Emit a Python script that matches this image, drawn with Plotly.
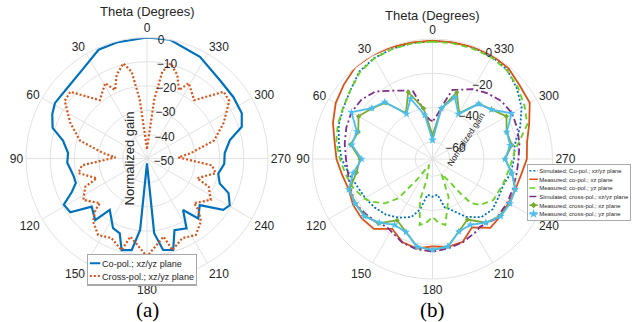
import plotly.graph_objects as go

# ---------------- Panel (a) data ----------------
theta_a_co = [0, 14, 24, 36, 48, 59, 65, 72, 78, 86, 93, 103, 109, 114, 119, 125, 131, 140, 144, 154, 160,
              164.5, 170.5, 174.5, 180, 185.5, 190, 196, 201, 209.5, 215, 220.5, 228.5, 236, 240.5, 247, 251,
              258, 266, 274, 282.5, 288.5, 295.5, 305.5, 317, 332.5, 349, 360]
gain_a_co = [0, -0.4, -0.8, -4.6, -6, -5.6, -6.8, -9, -14.5, -17.3, -17, -18.8, -18.9, -16, -10.7, -11.3, -19.7,
             -16.7, -23.8, -18, -17.1, -10.7, -11.6, -20.3, -48, -19, -11.6, -10.7, -18.3, -16.8, -24, -17.4,
             -20.9, -12, -10.7, -13.4, -18.2, -19.9, -18, -17.8, -14.9, -8.7, -6.6, -6.2, -5.8, -2.6, 0, 0]

theta_a_x = [0, 7, 10, 14, 20, 25, 29, 39, 49, 55, 65, 75, 83, 88, 96, 102, 111.5, 114.5, 123, 133.5, 135,
             139.5, 147.5, 156, 164.5, 168, 180, 192, 195.5, 204, 212.5, 220.5, 225, 226.5, 237, 245.5, 248.5,
             258, 264, 272, 277, 285, 295, 305, 311, 321, 331, 335, 340, 346, 350, 353, 360]
gain_a_x = [-46, -25.6, -13.6, -9.5, -13.3, -18.8, -14.4, -19, -8, -8.5, -15, -21.3, -31.8, -37, -23, -21,
            -27.7, -22, -18.6, -23.2, -19.8, -15.7, -12.5, -14, -10.7, -17, -9.5, -17, -10.7, -14, -12.5, -15.7,
            -19.8, -23.2, -18.6, -22, -27.7, -21, -23, -37, -31.8, -21.3, -15, -8.5, -8, -19, -14.4, -18.8,
            -13.3, -9.5, -13.6, -25.6, -46]

# ---------------- Panel (b) data ----------------
theta_b_sim_co = [0, 10, 20, 30, 40, 50, 60, 70, 80, 90, 100, 110, 120, 130, 140, 150, 160, 166, 172, 180, 188,
                  194, 200, 210, 220, 230, 240, 250, 260, 270, 280, 290, 300, 310, 320, 330, 340, 350, 360]
gain_b_sim_co = [-1.2, -1.3, -1.5, -2, -3.5, -7.5, -10, -11.8, -14.5, -17, -20.5, -23.3, -24.6, -26, -27.7,
                 -30.5, -34, -39.5, -49, -48, -49, -41, -38.5, -31, -25.7, -24.3, -25.5, -26, -23.5, -22.5,
                 -21.3, -15.6, -10, -5.8, -2.2, -0.8, -0.8, -1, -1.2]

theta_b_meas = [0, 10, 20, 30, 40, 50, 60, 70, 80, 90, 100, 110, 120, 130, 140, 150, 160, 170, 180, 190, 200,
                210, 220, 230, 240, 250, 260, 270, 280, 290, 300, 310, 320, 330, 340, 350, 360]
gain_b_co_xz = [-1, -1, -0.5, 0, 0, -2.5, -4.8, -8.2, -12, -14, -16.5, -18, -16.5, -16.1, -16.8, -23, -18.5,
                -17, -19, -18, -18.5, -24, -17.5, -18.2, -18.8, -18.5, -17.5, -15, -14, -10, -4.5, -3.5, -1,
                -0.3, -0.5, -1, -1]

theta_b_co_yz = [0, 10, 20, 30, 40, 50, 60, 70, 80, 90, 100, 110, 120, 125, 133, 139, 140, 143, 150, 164.5,
                 163, 169, 175, 180, 185, 191, 203, 211, 217, 219, 221, 226, 236, 251, 264, 276, 290, 300, 310,
                 320, 330, 340, 350, 360]
gain_b_co_yz = [-1.5, -1.5, -1.7, -2.2, -4, -7.5, -9.8, -11.2, -13, -16, -18.5, -20.8, -24, -26.6, -32, -39.6,
                -46.5, -54.7, -66, -57.3, -45, -30.8, -33, -36.3, -33, -30.8, -46, -60, -53, -44, -36, -31.5,
                -27.2, -26.3, -24.6, -21.6, -11.2, -8, -5, -2.5, -1.5, -1.5, -1.5, -1.5]

theta_b_sim_x = [0, 4, 8, 12, 16, 20, 30, 40, 50, 60, 70, 80, 90, 100, 110, 120, 130, 140, 146, 150, 160, 170,
                 180, 190, 200, 210, 215, 220, 227, 240, 250, 260, 270, 280, 290, 300, 310, 320, 330, 340, 344,
                 348, 352, 356, 360]
gain_b_sim_x = [-48, -47, -45, -38, -29, -27.5, -24, -18.5, -16, -15.4, -16.5, -18, -19.5, -20, -19, -18,
                -19.6, -21, -22.3, -21.5, -18.2, -16.5, -16, -17, -18.3, -20.5, -21.7, -21, -19, -19.5, -20,
                -20.2, -19.8, -18.5, -17.4, -16.5, -17.5, -20, -23, -27, -28, -36, -42, -46, -48]

gain_b_x_xz = [-56, -40, -28.5, -39, -27.2, -24, -20.2, -23.9, -21.5, -27.7, -25, -18.5, -18, -18.5, -21,
               -28.7, -24.7, -18, -17, -18.2, -25, -29.2, -21.5, -18.5, -18, -18.6, -23, -27.7, -23, -24, -20.2,
               -25, -28, -39, -28.6, -40, -56]
gain_b_x_yz = [-59, -44, -32.5, -39.7, -26.6, -23.8, -15.4, -23, -22.2, -28.7, -23, -18, -17.9, -18, -21.6,
               -25.6, -24.7, -18, -17, -18.2, -25, -25.7, -21.6, -18, -17.9, -18.6, -23, -27.7, -24, -23.9,
               -16.7, -25.2, -28, -39.8, -31.7, -40, -59]

angle_ticks = [0, 30, 60, 90, 120, 150, 180, 210, 240, 270, 300, 330]
angle_labels = [str(a) for a in angle_ticks]
r_ticks_a = [-50, -40, -30, -20, -10, 0]
r_ticks_b = [-60, -40, -20, 0]

FONT = "Liberation Sans"
TXT = "#262626"
GRID = "#e2e2e2"

fig = go.Figure()

# Panel (a)
fig.add_trace(go.Scatterpolar(r=gain_a_co, theta=theta_a_co, mode="lines", subplot="polar",
                              name="Co-pol.; xz/yz plane", legend="legend",
                              line=dict(color="#0072BD", width=2.2)))
fig.add_trace(go.Scatterpolar(r=gain_a_x, theta=theta_a_x, mode="lines", subplot="polar",
                              name="Cross-pol.; xz/yz plane", legend="legend",
                              line=dict(color="#D95319", width=2.2, dash="2px,2px")))

# Panel (b)
fig.add_trace(go.Scatterpolar(r=gain_b_sim_co, theta=theta_b_sim_co, mode="lines", subplot="polar2",
                              name="Simulated; Co-pol.; xz/yz plane", legend="legend2",
                              line=dict(color="#0072BD", width=1.8, dash="2px,2px")))
fig.add_trace(go.Scatterpolar(r=gain_b_co_xz, theta=theta_b_meas, mode="lines", subplot="polar2",
                              name="Measured; co-pol.; xz plane", legend="legend2",
                              line=dict(color="#D95319", width=1.8)))
fig.add_trace(go.Scatterpolar(r=gain_b_co_yz, theta=theta_b_co_yz, mode="lines", subplot="polar2",
                              name="Measured; co-pol.; yz plane", legend="legend2",
                              line=dict(color="#66D11E", width=1.8, dash="6px,4px")))
fig.add_trace(go.Scatterpolar(r=gain_b_sim_x, theta=theta_b_sim_x, mode="lines", subplot="polar2",
                              name="Simulated; cross-pol.; xz/yz plane", legend="legend2",
                              line=dict(color="#7E2F8E", width=1.8, dash="7px,3px,2px,3px")))
fig.add_trace(go.Scatterpolar(r=gain_b_x_xz, theta=theta_b_meas, mode="lines+markers", subplot="polar2",
                              name="Measured; cross-pol.; xz plane", legend="legend2",
                              line=dict(color="#77AC30", width=1.8),
                              marker=dict(symbol="diamond", size=4, color="#77AC30")))
fig.add_trace(go.Scatterpolar(r=gain_b_x_yz, theta=theta_b_meas, mode="lines+markers", subplot="polar2",
                              name="Measured; cross-pol.; yz plane", legend="legend2",
                              line=dict(color="#4DBEEE", width=1.8),
                              marker=dict(symbol="star", size=6, color="#4DBEEE")))


def angular(rot_font=12):
    return dict(rotation=90, direction="counterclockwise", tickmode="array", tickvals=angle_ticks,
                ticktext=angle_labels, showgrid=True, gridcolor=GRID, gridwidth=1, showline=True,
                linecolor=GRID, linewidth=1, ticks="", tickfont=dict(family=FONT, size=rot_font, color=TXT))


def note(text, x, y, size, angle=0, family=FONT, color=TXT):
    return dict(text=text, x=x / 643, y=1 - y / 322, xref="paper", yref="paper", xanchor="center",
                yanchor="middle", showarrow=False, textangle=angle,
                font=dict(family=family, size=size, color=color))


fig.update_layout(
    width=643, height=322, margin=dict(l=0, r=0, t=0, b=0, autoexpand=False),
    paper_bgcolor="white", plot_bgcolor="white",
    font=dict(family=FONT, color=TXT),
    polar=dict(
        domain=dict(x=[0.0404, 0.4168], y=[0.132, 0.8835]),
        bgcolor="white",
        angularaxis=angular(),
        radialaxis=dict(range=[-50, 0], tickmode="array", tickvals=r_ticks_a, angle=88, tickangle=88,
                        showline=False, ticks="", showgrid=True, gridcolor=GRID,
                        tickfont=dict(family=FONT, size=12, color=TXT)),
    ),
    polar2=dict(
        domain=dict(x=[0.486, 0.8593], y=[0.1335, 0.8789]),
        bgcolor="white",
        angularaxis=angular(),
        radialaxis=dict(range=[-70, 0], tickmode="array", tickvals=r_ticks_b, angle=67, tickangle=67,
                        showline=False, ticks="", showgrid=True, gridcolor=GRID,
                        tickfont=dict(family=FONT, size=12, color=TXT)),
    ),
    legend=dict(x=87 / 643, y=1 - 254 / 322, xanchor="left", yanchor="top", bgcolor="white",
                bordercolor="#a8a8a8", borderwidth=3, font=dict(family=FONT, size=26, color=TXT),
                itemwidth=30, tracegroupgap=0),
    legend2=dict(x=527 / 643, y=1 - 164 / 322, xanchor="left", yanchor="top", bgcolor="white",
                 bordercolor="#a8a8a8", borderwidth=3.5, font=dict(family=FONT, size=21.4, color=TXT),
                 itemwidth=30, tracegroupgap=0),
    annotations=[
        note("Theta (Degrees)", 147, 12, 13),
        note("Theta (Degrees)", 432, 15, 13),
        note("Normalized gain", 129, 158.5, 13, angle=-90),
        note("Normalized gain", 466, 139, 8.5, angle=-57),
        note("(a)", 147, 310, 21, family="Liberation Serif", color="black"),
        note("(b)", 432, 310, 21, family="Liberation Serif", color="black"),
    ],
)

# Compact the legends (scale about their top-left corner) to match the small reference legend boxes,
# keeping sample lines and markers about as large as in the reference.
post = """
var gd = document.getElementById('{plot_id}');
function shrinkLegends() {
  [['legend', 0.35, 2.0], ['legend2', 0.28, 1.5]].forEach(function (p) {
    var g = gd.querySelector('g.' + p[0]);
    if (!g) return;
    var s = p[1];
    var t = (g.getAttribute('transform') || '').replace(/\\s*scale\\([^)]*\\)/, '');
    g.setAttribute('transform', t + ' scale(' + s + ')');
    g.querySelectorAll('path.js-line').forEach(function (el) {
      if (el.dataset.fixed) return;
      el.dataset.fixed = '1';
      el.style.strokeWidth = (p[2] / s) + 'px';
      var da = el.style.strokeDasharray;
      if (da && da !== 'none') {
        el.style.strokeDasharray = da.split(/[ ,]+/).map(function (v) {
          return (parseFloat(v) / s) + 'px';
        }).join(',');
      }
    });
    g.querySelectorAll('path.scatterpts').forEach(function (el) {
      if (el.dataset.fixed) return;
      el.dataset.fixed = '1';
      el.setAttribute('transform', (el.getAttribute('transform') || '') + ' scale(' + (1.2 / s) + ')');
    });
  });
}
shrinkLegends();
gd.on('plotly_afterplot', shrinkLegends);
"""

fig.write_html("out.html", post_script=post)
